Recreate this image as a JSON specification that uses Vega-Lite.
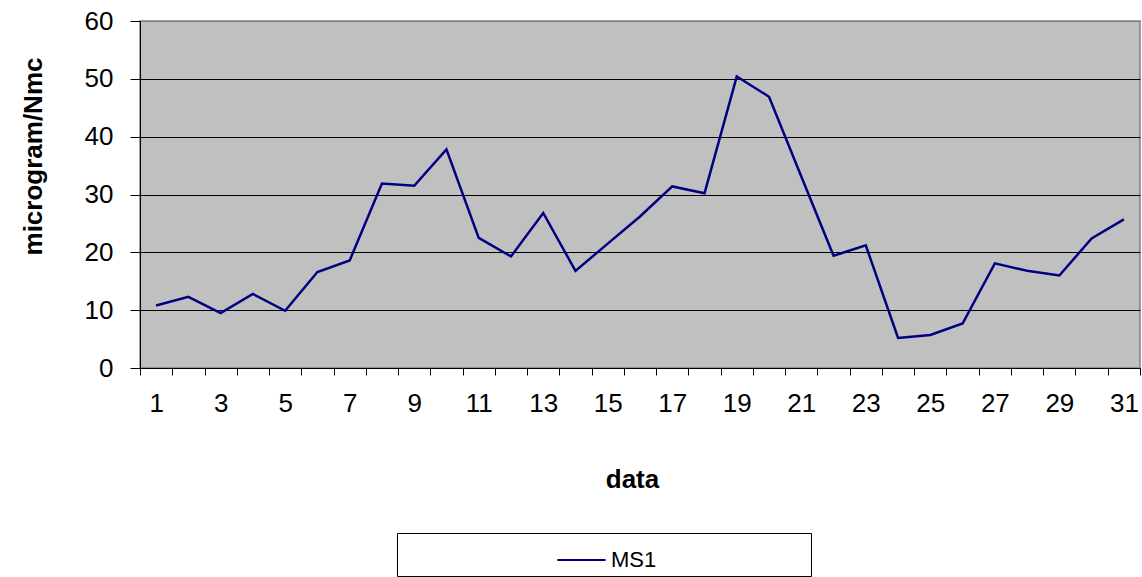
{
  "$schema": "https://vega.github.io/schema/vega-lite/v6.json",
  "width": 1000,
  "height": 347,
  "autosize": {"type": "none"},
  "padding": {"left": 140, "top": 21, "right": 2, "bottom": 209},
  "background": "white",
  "config": {
    "font": "Liberation Sans",
    "view": {"fill": "#C0C0C0", "stroke": "#808080", "strokeWidth": 1.5}
  },
  "data": {
    "values": [
      {"day": 1, "value": 10.8, "series": "MS1"},
      {"day": 2, "value": 12.3, "series": "MS1"},
      {"day": 3, "value": 9.5, "series": "MS1"},
      {"day": 4, "value": 12.8, "series": "MS1"},
      {"day": 5, "value": 9.9, "series": "MS1"},
      {"day": 6, "value": 16.6, "series": "MS1"},
      {"day": 7, "value": 18.6, "series": "MS1"},
      {"day": 8, "value": 31.9, "series": "MS1"},
      {"day": 9, "value": 31.5, "series": "MS1"},
      {"day": 10, "value": 37.8, "series": "MS1"},
      {"day": 11, "value": 22.5, "series": "MS1"},
      {"day": 12, "value": 19.3, "series": "MS1"},
      {"day": 13, "value": 26.8, "series": "MS1"},
      {"day": 14, "value": 16.8, "series": "MS1"},
      {"day": 15, "value": 21.5, "series": "MS1"},
      {"day": 16, "value": 26.2, "series": "MS1"},
      {"day": 17, "value": 31.4, "series": "MS1"},
      {"day": 18, "value": 30.2, "series": "MS1"},
      {"day": 19, "value": 50.4, "series": "MS1"},
      {"day": 20, "value": 46.9, "series": "MS1"},
      {"day": 21, "value": 33.1, "series": "MS1"},
      {"day": 22, "value": 19.4, "series": "MS1"},
      {"day": 23, "value": 21.2, "series": "MS1"},
      {"day": 24, "value": 5.2, "series": "MS1"},
      {"day": 25, "value": 5.7, "series": "MS1"},
      {"day": 26, "value": 7.7, "series": "MS1"},
      {"day": 27, "value": 18.1, "series": "MS1"},
      {"day": 28, "value": 16.8, "series": "MS1"},
      {"day": 29, "value": 16.0, "series": "MS1"},
      {"day": 30, "value": 22.4, "series": "MS1"},
      {"day": 31, "value": 25.7, "series": "MS1"}
    ]
  },
  "mark": {"type": "line", "strokeWidth": 2.5},
  "encoding": {
    "x": {
      "field": "day",
      "type": "ordinal",
      "bandPosition": 0.5,
      "scale": {"type": "band", "paddingInner": 0, "paddingOuter": 0},
      "axis": {
        "title": "data",
        "titleFontSize": 26,
        "titleFontWeight": "bold",
        "titleColor": "black",
        "titleX": 492,
        "titleY": 119,
        "titleAlign": "center",
        "titleBaseline": "alphabetic",
        "labelAngle": 0,
        "labelFontSize": 26,
        "labelColor": "black",
        "labelPadding": 15,
        "labelExpr": "datum.value % 2 == 1 ? datum.label : ''",
        "tickBand": "extent",
        "tickSize": 7,
        "tickColor": "black",
        "domainColor": "black",
        "grid": false
      }
    },
    "y": {
      "field": "value",
      "type": "quantitative",
      "scale": {"domain": [0, 60], "nice": false},
      "axis": {
        "title": "microgram/Nmc",
        "titleFontSize": 26,
        "titleFontWeight": "bold",
        "titleColor": "black",
        "titleX": -107,
        "titleY": 135,
        "titleAngle": -90,
        "titleAlign": "center",
        "titleBaseline": "middle",
        "values": [0, 10, 20, 30, 40, 50, 60],
        "labelFontSize": 26,
        "labelColor": "black",
        "labelPadding": 17,
        "tickSize": 10,
        "tickColor": "black",
        "domainColor": "black",
        "grid": true,
        "gridColor": {"condition": {"test": "datum.value == 60 || datum.value == 0", "value": "#808080"}, "value": "black"},
        "gridOpacity": 1
      }
    },
    "color": {
      "field": "series",
      "type": "nominal",
      "scale": {"range": ["#000080"]},
      "legend": {
        "title": "\u00a0",
        "titleOrient": "right",
        "titlePadding": 150,
        "titleFontSize": 10,
        "orient": "none",
        "legendX": 257,
        "legendY": 512,
        "direction": "horizontal",
        "strokeColor": "black",
        "fillColor": "white",
        "padding": 4.5,
        "symbolType": "M-1.12,0H1.12",
        "symbolSize": 1849,
        "symbolStrokeWidth": 2,
        "symbolOffset": 157.5,
        "labelFontSize": 22,
        "labelColor": "black",
        "labelOffset": 7
      }
    }
  }
}
